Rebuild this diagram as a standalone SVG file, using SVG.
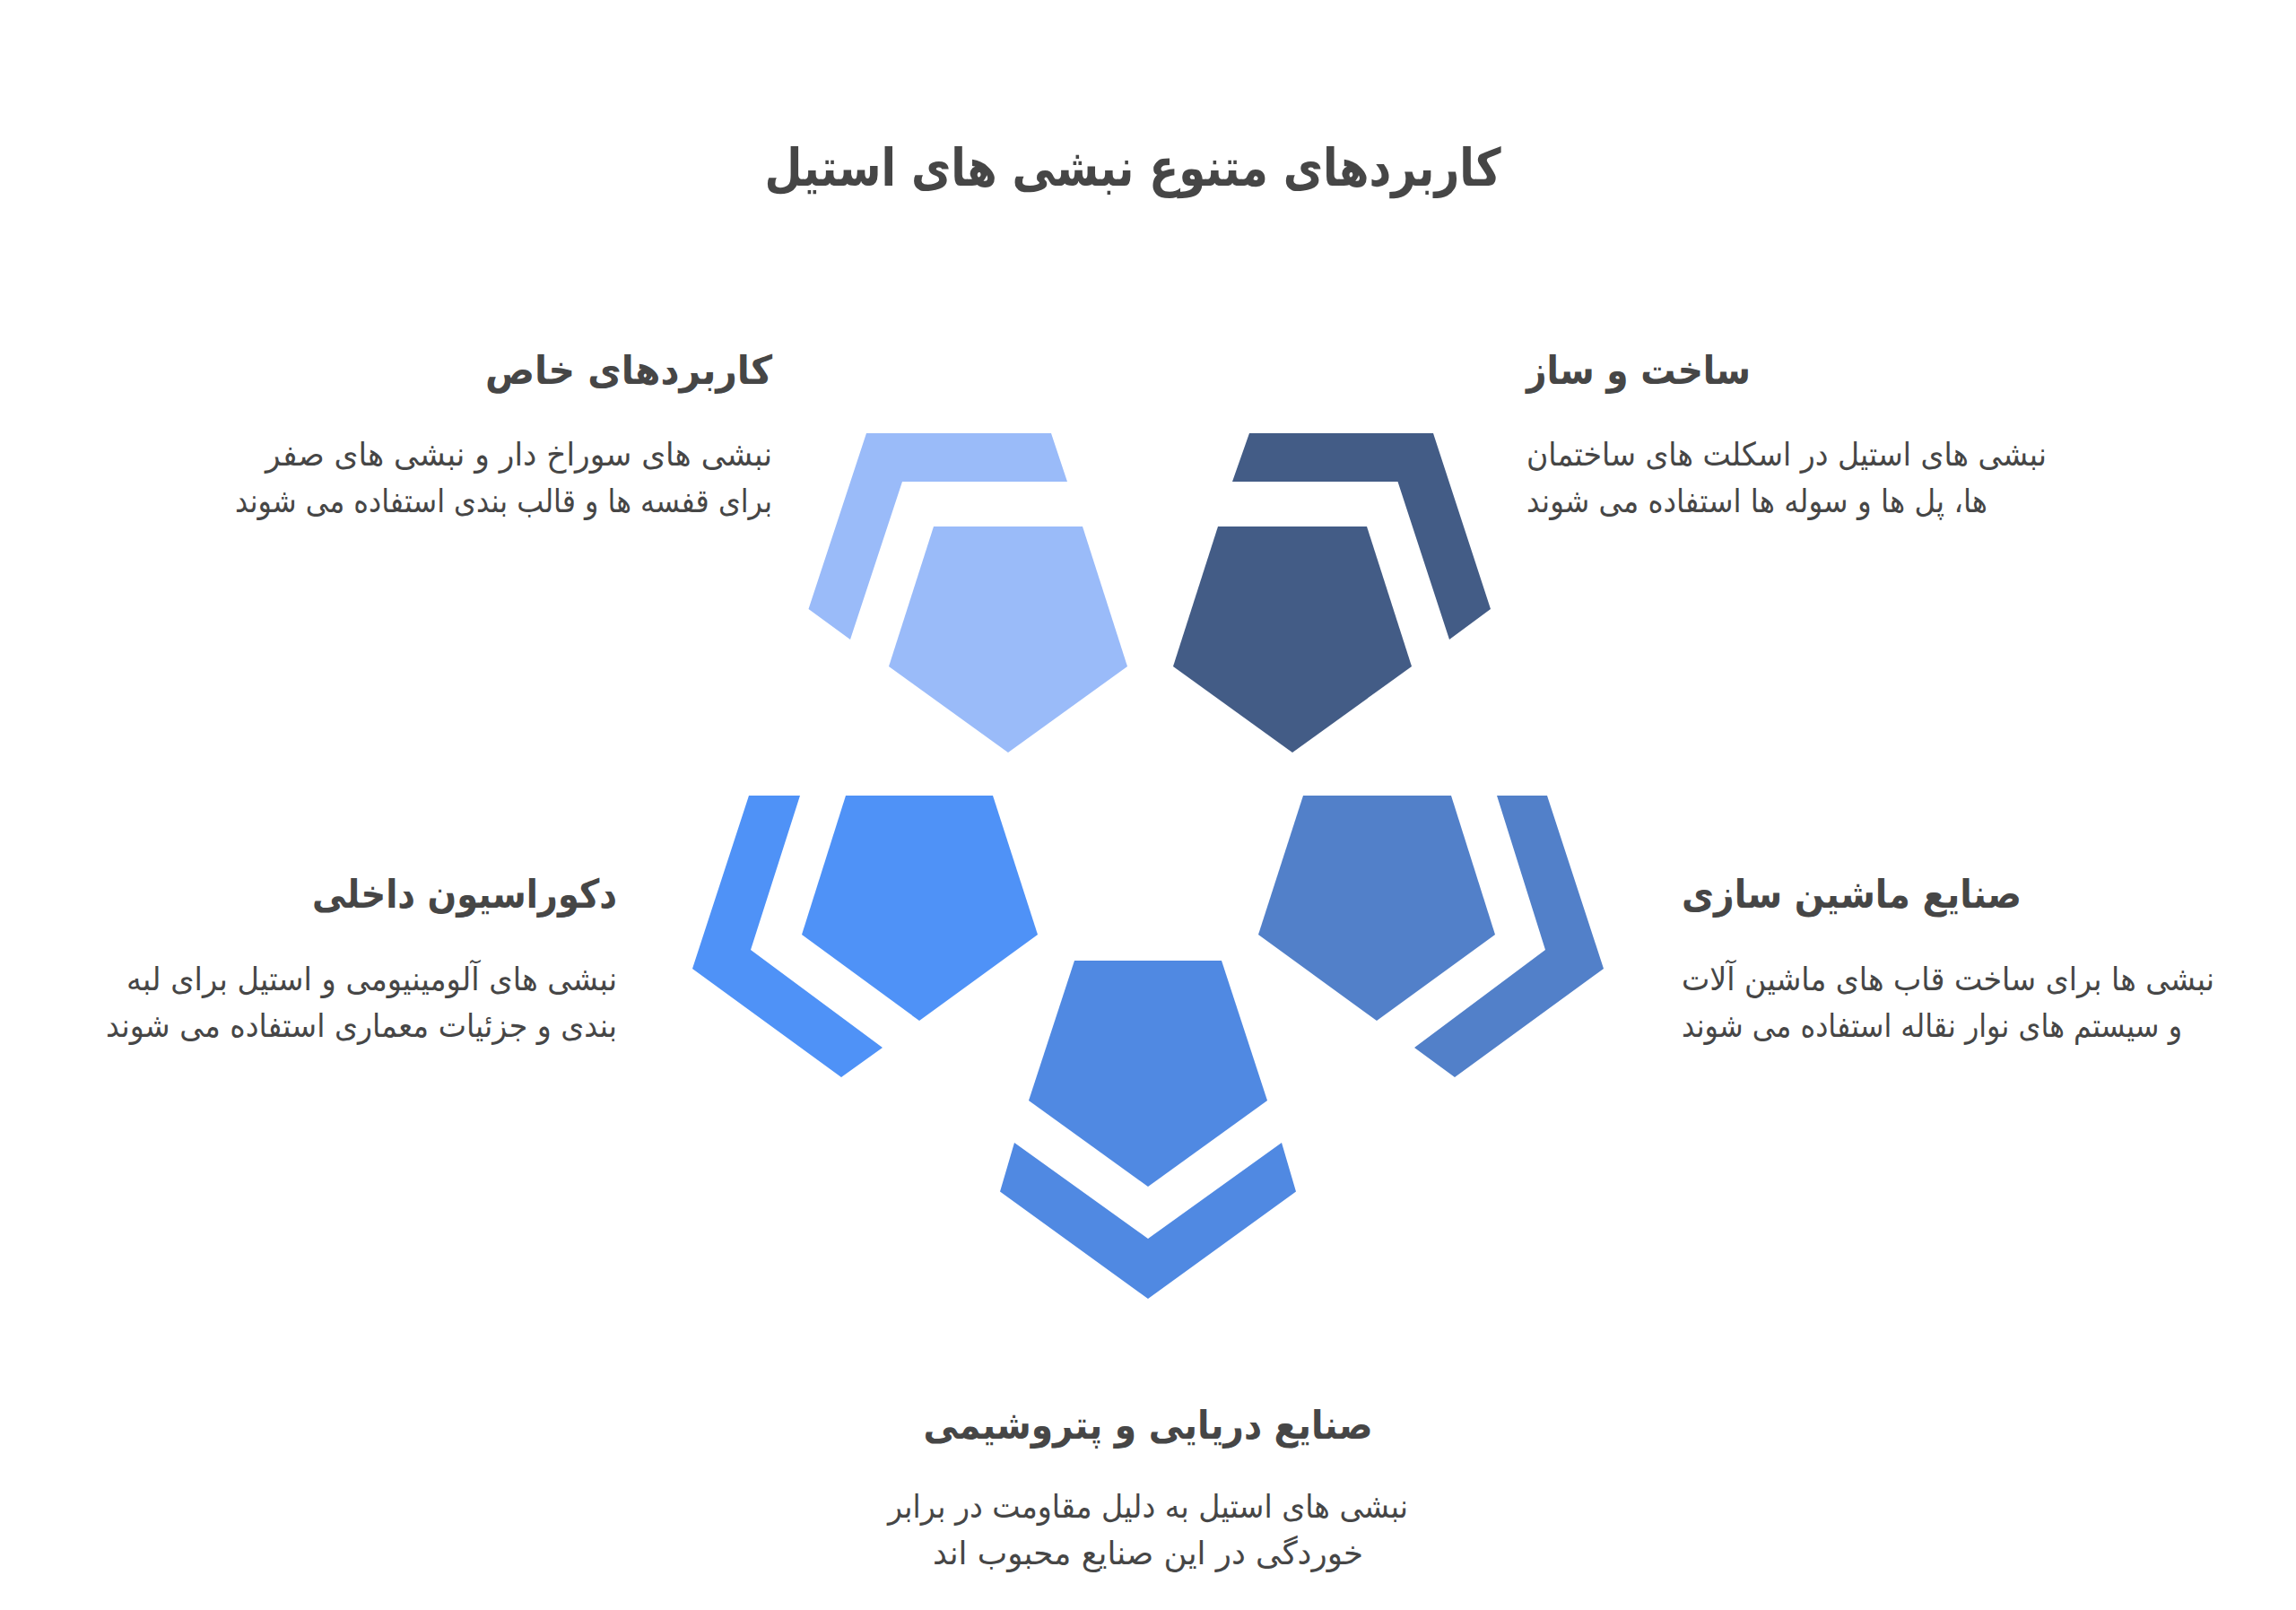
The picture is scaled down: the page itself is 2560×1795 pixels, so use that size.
<svg xmlns="http://www.w3.org/2000/svg" width="2560" height="1795" viewBox="0 0 2560 1795">
<style>
text{font-family:"DejaVu Sans","Liberation Sans",sans-serif;fill:#464646}
.title{font-size:58px;font-weight:bold}
.head{font-size:44px;font-weight:bold}
.body{font-size:36px}
.c1{fill:#9ABBF9}
.c2{fill:#435C86}
.c3{fill:#4F92F7}
.c4{fill:#5089E2}
.c5{fill:#5280C9}
</style>
<rect width="2560" height="1795" fill="#ffffff"/>
<text class="title" x="1263" y="207" text-anchor="middle" textLength="821" lengthAdjust="spacingAndGlyphs">کاربردهای متنوع نبشی های استیل</text>
<g id="node-special">
<polygon class="c1" points="1041,587 1207,587 1257,743 1124,839 991,743"/>
<polygon class="c1" points="966,483 1172,483 1190,537 1006,537 948,713 901.5,679"/>
<text class="head" x="861" y="428" text-anchor="end" textLength="320" lengthAdjust="spacingAndGlyphs">کاربردهای خاص</text>
<text class="body" x="861" y="519" text-anchor="end" textLength="565" lengthAdjust="spacingAndGlyphs">نبشی های سوراخ دار و نبشی های صفر</text>
<text class="body" x="861" y="571" text-anchor="end" textLength="599" lengthAdjust="spacingAndGlyphs">برای قفسه ها و قالب بندی استفاده می شوند</text>
</g>
<g id="node-construction">
<polygon class="c2" points="1358,587 1524,587 1574,743 1441,839 1308,743"/>
<polygon class="c2" points="1393,483 1598,483 1662,679 1616,713 1558.5,537 1374,537"/>
<text class="head" x="1702" y="428" text-anchor="start" textLength="250" lengthAdjust="spacingAndGlyphs">ساخت و ساز</text>
<text class="body" x="1702" y="519" text-anchor="start" textLength="580" lengthAdjust="spacingAndGlyphs">نبشی های استیل در اسکلت های ساختمان</text>
<text class="body" x="1702" y="571" text-anchor="start" textLength="514" lengthAdjust="spacingAndGlyphs">ها، پل ها و سوله ها استفاده می شوند</text>
</g>
<g id="node-decoration">
<polygon class="c3" points="943,887 1107,887 1157,1042 1025,1138 894,1042"/>
<polygon class="c3" points="835,887 892,887 837,1059 984,1168 938,1201 772,1080"/>
<text class="head" x="688" y="1012" text-anchor="end" textLength="340" lengthAdjust="spacingAndGlyphs">دکوراسیون داخلی</text>
<text class="body" x="688" y="1104" text-anchor="end" textLength="547" lengthAdjust="spacingAndGlyphs">نبشی های آلومینیومی و استیل برای لبه</text>
<text class="body" x="688" y="1156" text-anchor="end" textLength="570" lengthAdjust="spacingAndGlyphs">بندی و جزئیات معماری استفاده می شوند</text>
</g>
<g id="node-machinery">
<polygon class="c5" points="1453,887 1618,887 1667,1042 1535,1138 1403,1042"/>
<polygon class="c5" points="1669,887 1725,887 1788,1080 1622,1201 1577,1168 1723,1059"/>
<text class="head" x="1875" y="1012" text-anchor="start" textLength="379" lengthAdjust="spacingAndGlyphs">صنایع ماشین سازی</text>
<text class="body" x="1875" y="1104" text-anchor="start" textLength="594" lengthAdjust="spacingAndGlyphs">نبشی ها برای ساخت قاب های ماشین آلات</text>
<text class="body" x="1875" y="1156" text-anchor="start" textLength="558" lengthAdjust="spacingAndGlyphs">و سیستم های نوار نقاله استفاده می شوند</text>
</g>
<g id="node-marine">
<polygon class="c4" points="1198,1071 1362,1071 1413,1227 1280,1323 1147,1227"/>
<polygon class="c4" points="1131,1274 1280,1381 1429,1274 1445,1328.5 1280,1448 1115,1328.5"/>
<text class="head" x="1280" y="1604" text-anchor="middle" textLength="501" lengthAdjust="spacingAndGlyphs">صنایع دریایی و پتروشیمی</text>
<text class="body" x="1280" y="1692" text-anchor="middle" textLength="580" lengthAdjust="spacingAndGlyphs">نبشی های استیل به دلیل مقاومت در برابر</text>
<text class="body" x="1280" y="1744" text-anchor="middle" textLength="480" lengthAdjust="spacingAndGlyphs">خوردگی در این صنایع محبوب اند</text>
</g>
<g id="connectors"></g>
</svg>
